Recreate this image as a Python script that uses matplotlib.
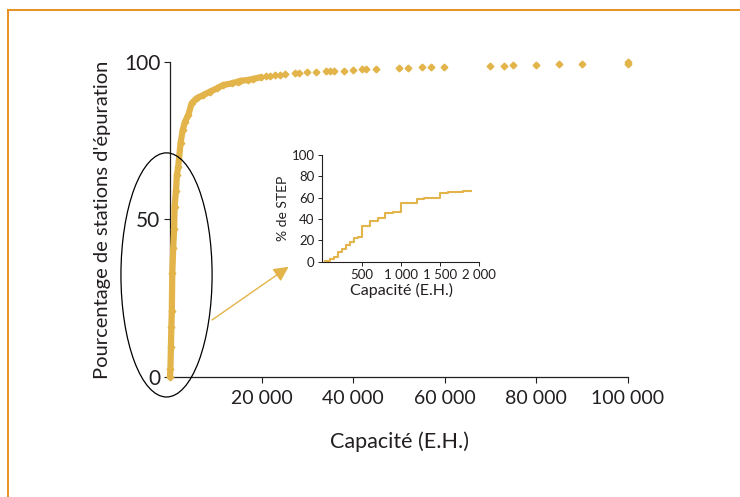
import matplotlib.pyplot as plt
import matplotlib.patches as patches
from matplotlib.lines import Line2D
from matplotlib.ticker import FuncFormatter

plt.rcParams['font.family'] = ['Lato', 'DejaVu Sans']

GOLD = '#E2B44A'
ORANGE = '#E8921E'
INK = '#231F20'

# main curve: capacity (E.H.) vs cumulative % of stations
main_cap = [0, 90, 200, 300, 400, 500, 700, 900, 1000, 1300, 1500, 1800,
            2300, 2770, 3270, 4000, 4730, 5830, 7270, 8730, 10190, 11640,
            13460, 14920, 15300, 17100, 18100, 19900, 21000, 21800, 23000,
            24000, 25100, 27200, 28200, 30000, 31900, 34000, 34900, 35900,
            38000, 40000, 41900, 42900, 45000, 49900, 51900, 55000, 57000,
            59900, 69900, 72900, 74900, 79900, 84900, 89900, 100000, 100000]
main_pct = [0, 2.5, 9.4, 16, 21, 33, 41, 47, 54, 59, 64, 66.8,
            74.2, 78.4, 81, 83.2, 86.9, 88.5, 89.5, 90.6, 91.6, 92.7,
            93.2, 93.8, 94.0, 94.3, 94.6, 95.2, 95.6, 95.7, 95.8,
            95.9, 96.1, 96.4, 96.5, 96.7, 96.8, 97.0, 97.1, 97.1,
            97.3, 97.5, 97.8, 97.9, 97.9, 98.1, 98.2, 98.3, 98.5,
            98.5, 98.8, 98.8, 99.0, 99.1, 99.4, 99.4, 99.5, 100]
dense_limit = 20000

# inset: zoom on 0-2000 E.H. (step curve)
inset_cap = [26, 90, 141, 197, 248, 299, 350, 402, 449, 500, 603, 701,
             799, 902, 1000, 1201, 1299, 1500, 1598, 1799, 1897]
inset_pct = [0.5, 2.5, 4, 9.4, 12, 16, 18.4, 22, 23.6, 33.4, 38.4, 41,
             46, 47, 54.7, 58.4, 59.7, 64.4, 65.6, 66.6, 66.6]

main_xticks = [20000, 40000, 60000, 80000, 100000]
main_yticks = [0, 50, 100]
inset_xticks = [500, 1000, 1500, 2000]
inset_yticks = [0, 20, 40, 60, 80, 100]


def spaced(v, pos=None):
    return f'{int(v):,}'.replace(',', ' ')


fig = plt.figure(figsize=(7.4, 4.97), dpi=100)

# orange frame (top and left edges only)
fig.add_artist(Line2D([8 / 740, 1], [1 - 10 / 497] * 2, color=ORANGE, lw=1.4,
                      transform=fig.transFigure))
fig.add_artist(Line2D([8 / 740] * 2, [0, 1 - 10 / 497], color=ORANGE, lw=1.4,
                      transform=fig.transFigure))

ax = fig.add_axes([170 / 740, 1 - 377 / 497, 458 / 740, 315 / 497])
dense = [i for i, c in enumerate(main_cap) if c <= dense_limit]
ax.plot([main_cap[i] for i in dense], [main_pct[i] for i in dense],
        color=GOLD, lw=4.5, solid_capstyle='round', clip_on=False, zorder=3)
ax.plot(main_cap, main_pct, ls='none', marker='D', ms=3.4, color=GOLD,
        mec=GOLD, clip_on=False, zorder=3)
ax.set_xlim(0, 100000)
ax.set_ylim(0, 100)
for s in ('top', 'right'):
    ax.spines[s].set_visible(False)
for s in ('left', 'bottom'):
    ax.spines[s].set_linewidth(0.9)
    ax.spines[s].set_color(INK)
ax.set_xticks(main_xticks)
ax.set_yticks(main_yticks)
ax.xaxis.set_major_formatter(FuncFormatter(spaced))
ax.tick_params(direction='out', length=4, width=0.8, labelsize=14,
               colors=INK, pad=5)
ax.tick_params(axis='y', labelsize=15, pad=3)
ax.set_xlabel('Capacité (E.H.)', fontsize=15.5, color=INK, labelpad=18)
ax.set_ylabel("Pourcentage de stations d'épuration", fontsize=14.5,
              color=INK, labelpad=9)

# ellipse around the low-capacity part
ell = patches.Ellipse((-760, 32.4), 19900, 77.5, fill=False, ec='black',
                      lw=0.9, clip_on=False, zorder=4)
ax.add_patch(ell)

# arrow toward the inset
ax.annotate('', xy=(25900, 35.0), xytext=(9170, 18.1),
            arrowprops=dict(arrowstyle='-|>,head_length=0.9,head_width=0.45',
                            color=GOLD, lw=1.0, shrinkA=0, shrinkB=0))

# inset
ins = fig.add_axes([323 / 740, 1 - 261.7 / 497, 156 / 740, 106.7 / 497])
ins.plot(inset_cap, inset_pct, drawstyle='steps-post', color=GOLD, lw=1.5)
ins.set_xlim(0, 2000)
ins.set_ylim(0, 100)
for s in ('top', 'right'):
    ins.spines[s].set_visible(False)
for s in ('left', 'bottom'):
    ins.spines[s].set_linewidth(0.8)
    ins.spines[s].set_color(INK)
ins.spines['left'].set_position(('outward', 1))
ins.set_xticks(inset_xticks)
ins.set_yticks(inset_yticks)
ins.xaxis.set_major_formatter(FuncFormatter(spaced))
ins.tick_params(direction='out', length=3, width=0.7, labelsize=9.5,
                colors=INK, pad=2)
ins.set_xlabel('Capacité (E.H.)', fontsize=11.5, color=INK, labelpad=2)
ins.set_ylabel('% de STEP', fontsize=10, color=INK, labelpad=2)

fig.savefig('out.png', dpi=100)
